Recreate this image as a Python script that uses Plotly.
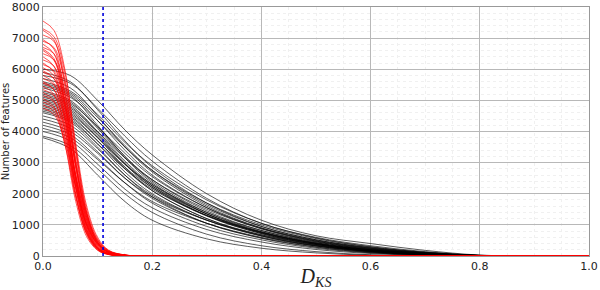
import plotly.graph_objects as go

# ---- data ----
black_x = [0.0, 0.05, 0.10, 0.15, 0.20, 0.30, 0.40, 0.50, 0.60, 0.70, 0.80, 0.90, 1.00]
black_curves = [
    [6000, 5800, 5000, 4050, 3250, 2000, 1150, 650, 400, 180, 30, 0, 0],
    [5900, 5600, 4700, 3700, 2850, 1700, 950, 520, 260, 100, 15, 0, 0],
    [5800, 5550, 4750, 3850, 3050, 1850, 1050, 600, 330, 140, 20, 0, 0],
    [5700, 5400, 4500, 3500, 2700, 1600, 900, 480, 230, 90, 12, 0, 0],
    [5600, 5300, 4550, 3650, 2900, 1800, 1050, 580, 300, 120, 20, 0, 0],
    [5550, 5250, 4450, 3550, 2750, 1650, 950, 520, 270, 110, 15, 0, 0],
    [5500, 5200, 4350, 3400, 2600, 1550, 870, 460, 210, 80, 10, 0, 0],
    [5450, 5150, 4200, 3200, 2400, 1400, 780, 400, 180, 60, 8, 0, 0],
    [5400, 5100, 4350, 3500, 2750, 1700, 1000, 560, 290, 120, 20, 0, 0],
    [5300, 5000, 4150, 3200, 2450, 1450, 820, 430, 200, 70, 10, 0, 0],
    [5250, 4950, 4100, 3150, 2350, 1350, 740, 380, 160, 50, 5, 0, 0],
    [5200, 4900, 4150, 3300, 2550, 1550, 900, 500, 250, 100, 15, 0, 0],
    [5150, 4850, 4000, 3050, 2300, 1350, 760, 400, 180, 60, 8, 0, 0],
    [5100, 4800, 3950, 3000, 2250, 1300, 720, 370, 160, 50, 5, 0, 0],
    [5050, 4750, 4000, 3150, 2450, 1500, 880, 480, 240, 90, 12, 0, 0],
    [5000, 4700, 3900, 2950, 2200, 1280, 720, 370, 160, 55, 6, 0, 0],
    [4950, 4650, 3850, 2950, 2250, 1350, 780, 420, 200, 70, 10, 0, 0],
    [4900, 4600, 3800, 2850, 2100, 1200, 650, 320, 130, 40, 4, 0, 0],
    [4850, 4550, 3800, 2950, 2300, 1400, 820, 450, 220, 85, 12, 0, 0],
    [4800, 4500, 3700, 2800, 2100, 1200, 680, 350, 150, 50, 6, 0, 0],
    [4750, 4450, 3700, 2850, 2200, 1300, 750, 400, 190, 70, 10, 0, 0],
    [4700, 4400, 3600, 2700, 2000, 1150, 640, 330, 140, 45, 5, 0, 0],
    [4650, 4350, 3600, 2800, 2150, 1300, 760, 410, 200, 75, 10, 0, 0],
    [4600, 4300, 3500, 2600, 1900, 1050, 570, 280, 110, 30, 3, 0, 0],
    [4500, 4200, 3450, 2600, 1950, 1150, 650, 340, 150, 50, 6, 0, 0],
    [4400, 4100, 3350, 2500, 1850, 1050, 580, 290, 120, 40, 4, 0, 0],
    [4300, 4000, 3300, 2500, 1900, 1150, 680, 370, 180, 65, 8, 0, 0],
    [4200, 3900, 3150, 2350, 1700, 950, 520, 250, 100, 30, 3, 0, 0],
    [4100, 3800, 3100, 2350, 1750, 1050, 600, 320, 150, 50, 6, 0, 0],
    [4000, 3700, 2950, 2150, 1550, 850, 450, 210, 80, 20, 2, 0, 0],
    [3850, 3550, 2800, 2000, 1400, 700, 330, 140, 40, 8, 0, 0, 0],
    [3800, 3450, 2600, 1750, 1150, 550, 250, 100, 25, 5, 0, 0, 0],
]

red_x = [0.0, 0.02, 0.04, 0.06, 0.08, 0.10, 0.12, 0.15, 0.20, 1.00]
red_curves = [
    [7550, 7250, 6000, 3500, 1400, 450, 120, 20, 0, 0],
    [7300, 7050, 5900, 3600, 1600, 600, 190, 35, 0, 0],
    [7250, 6950, 5500, 3000, 1150, 350, 90, 15, 0, 0],
    [7100, 6900, 5700, 3300, 1350, 450, 130, 20, 0, 0],
    [6950, 6650, 5200, 2800, 1050, 320, 80, 10, 0, 0],
    [6900, 6700, 5600, 3400, 1500, 550, 170, 30, 0, 0],
    [6800, 6500, 5000, 2600, 950, 280, 70, 10, 0, 0],
    [6700, 6500, 5300, 3000, 1250, 420, 120, 20, 0, 0],
    [6650, 6350, 4900, 2500, 950, 290, 75, 10, 0, 0],
    [6600, 6300, 4800, 2400, 850, 250, 60, 10, 0, 0],
    [6500, 6300, 5200, 3100, 1400, 500, 160, 30, 0, 0],
    [6400, 6100, 4700, 2400, 900, 270, 70, 10, 0, 0],
    [6300, 6100, 5000, 2900, 1250, 430, 130, 25, 0, 0],
    [6200, 5900, 4500, 2200, 800, 230, 60, 10, 0, 0],
    [6150, 5950, 4900, 2900, 1300, 480, 150, 30, 0, 0],
    [6050, 5800, 4600, 2500, 1000, 320, 90, 15, 0, 0],
    [5950, 5700, 4400, 2200, 800, 240, 60, 10, 0, 0],
    [5900, 5700, 4800, 2900, 1350, 520, 170, 35, 0, 0],
    [5800, 5550, 4300, 2200, 850, 260, 70, 10, 0, 0],
    [5700, 5500, 4500, 2600, 1150, 400, 120, 20, 0, 0],
    [5600, 5350, 4100, 2000, 700, 200, 50, 10, 0, 0],
    [5550, 5350, 4400, 2600, 1200, 440, 140, 25, 0, 0],
    [5450, 5200, 4000, 2000, 750, 220, 55, 10, 0, 0],
    [5350, 5150, 4200, 2500, 1100, 400, 120, 20, 0, 0],
    [5250, 5000, 3800, 1900, 700, 200, 50, 10, 0, 0],
    [5150, 4950, 4050, 2350, 1050, 380, 110, 20, 0, 0],
    [5050, 4800, 3600, 1750, 620, 180, 45, 5, 0, 0],
    [4950, 4750, 3850, 2250, 1000, 370, 110, 20, 0, 0],
    [4850, 4650, 3600, 1900, 750, 240, 65, 10, 0, 0],
    [4750, 4550, 3700, 2200, 1000, 380, 120, 25, 0, 0],
]

threshold_x = [0.11]

x_ticks = [0.0, 0.2, 0.4, 0.6, 0.8, 1.0]
y_ticks = [0, 1000, 2000, 3000, 4000, 5000, 6000, 7000, 8000]

# ---- figure ----
fig = go.Figure()

for ys in black_curves:
    fig.add_trace(go.Scatter(
        x=black_x, y=ys, mode="lines",
        line=dict(color="rgba(0,0,0,0.8)", width=0.8, shape="spline", smoothing=1.0),
        hoverinfo="skip", showlegend=False))

for ys in red_curves:
    fig.add_trace(go.Scatter(
        x=red_x, y=ys, mode="lines",
        line=dict(color="rgba(255,0,0,0.65)", width=1.0, shape="spline", smoothing=1.0),
        hoverinfo="skip", showlegend=False))

for tx in threshold_x:
    fig.add_vline(x=tx, line=dict(color="#0000dd", width=1.6, dash="dot"), layer="above")

fig.update_layout(
    width=600, height=290,
    margin=dict(l=43, r=11, t=7, b=34),
    paper_bgcolor="white", plot_bgcolor="white",
    font=dict(family="DejaVu Sans", size=11, color="#222"),
    showlegend=False,
)

fig.update_xaxes(
    range=[0, 1], tickvals=x_ticks, ticktext=[f"{v:.1f}" for v in x_ticks],
    showgrid=True, gridcolor="#b8b8b8", gridwidth=0.8,
    minor=dict(dtick=0.05, showgrid=True, gridcolor="#f0f0f0", griddash="3px,3px", gridwidth=0.8),
    showline=True, linecolor="#999", linewidth=1, mirror=True,
    ticks="", zeroline=False, automargin=False,
    tickfont=dict(size=11, color="#222"),
    title=dict(text="<i>D</i><sub><i>KS</i></sub>", standoff=0,
               font=dict(family="Liberation Serif", size=20, color="#222")),
)
fig.update_yaxes(
    range=[0, 8000], tickvals=y_ticks,
    showgrid=True, gridcolor="#b8b8b8", gridwidth=0.8,
    minor=dict(dtick=200, showgrid=True, gridcolor="#f0f0f0", griddash="3px,3px", gridwidth=0.8),
    showline=True, linecolor="#999", linewidth=1, mirror=True,
    ticks="", zeroline=False, automargin=False,
    tickfont=dict(size=11, color="#222"),
    title=dict(text="Number of features", standoff=2,
               font=dict(family="DejaVu Sans", size=10, color="#222")),
)

fig.write_html("out.html", config={"displayModeBar": False},
               post_script="document.body.style.margin='0';")
